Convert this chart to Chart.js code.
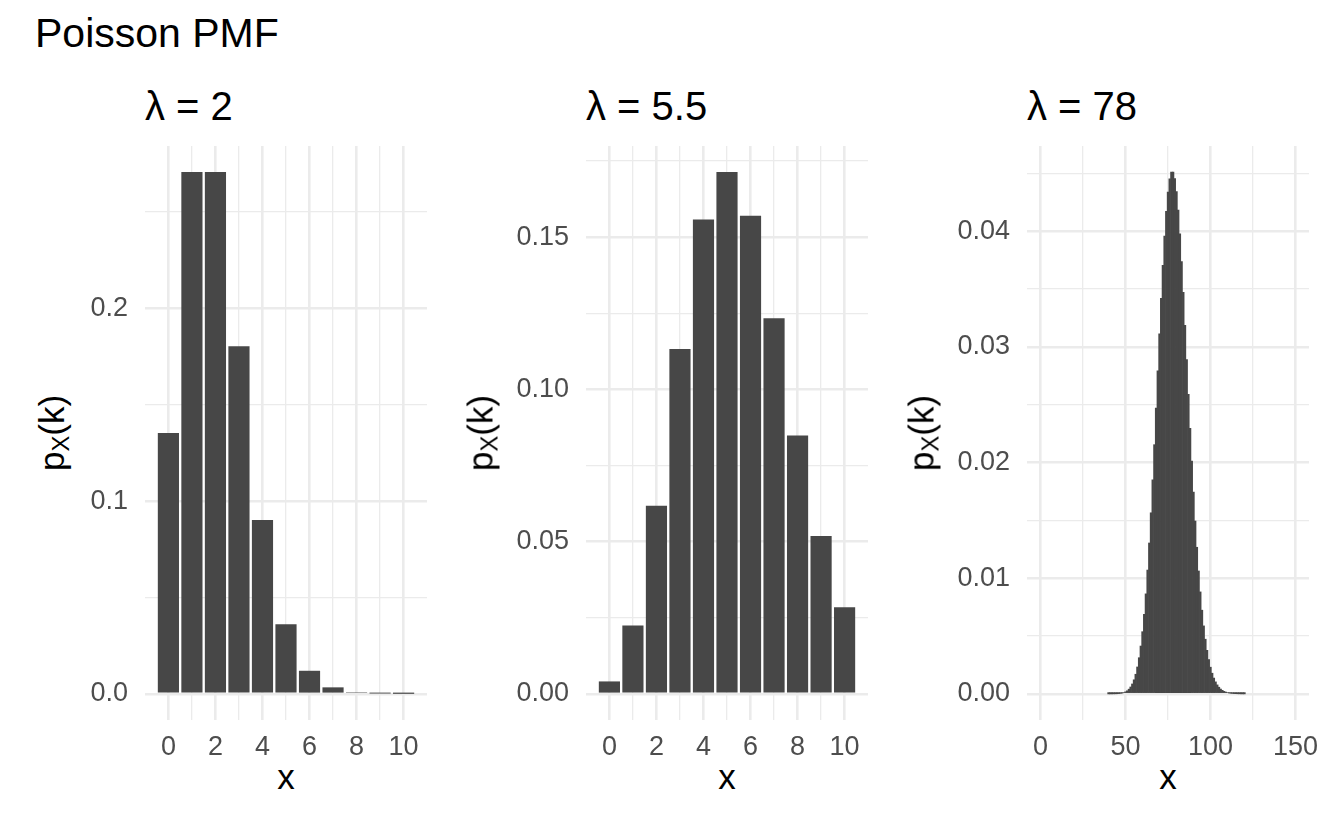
<!DOCTYPE html>
<html>
<head>
<meta charset="utf-8">
<script src="https://cdn.jsdelivr.net/npm/chart.js@4.4.1/dist/chart.umd.min.js"></script>
<style>
  html, body { margin: 0; padding: 0; background: #ffffff; }
  body { width: 1344px; height: 830px; position: relative; overflow: hidden;
         font-family: 'Liberation Sans', Arial, Helvetica, sans-serif; color: #000; }
  .txt { position: absolute; line-height: 1; white-space: nowrap; }
  #mainTitle { left: 35px; top: 13px; font-size: 41px; }
  .ptitle { top: 86px; font-size: 40px; }
  .ytitle { top: 433px; font-size: 35px; transform: translate(-50%, -50%) rotate(-90deg); }
  .ytitle sub { font-size: 0.68em; vertical-align: -0.22em; line-height: 0; }
  .xtitle { top: 759px; font-size: 35px; transform: translateX(-50%); }
  canvas { position: absolute; top: 140px; }
</style>
</head>
<body>
<script>
// ---------------- data ----------------
const mainTitle = 'Poisson PMF';
const panelTitles = ['λ = 2', 'λ = 5.5', 'λ = 78'];

const k2 = [0, 1, 2, 3, 4, 5, 6, 7, 8, 9, 10];
const p2 = [0.1353, 0.2707, 0.2707, 0.1804, 0.0902, 0.0361, 0.0120, 0.0034, 0.0009, 0.0002, 0.00004];

const k55 = [0, 1, 2, 3, 4, 5, 6, 7, 8, 9, 10];
const p55 = [0.0041, 0.0225, 0.0618, 0.1133, 0.1558, 0.1714, 0.1571, 0.1234, 0.0849, 0.0519, 0.0285];

const k78 = [40, 41, 42, 43, 44, 45, 46, 47, 48, 49,
             50, 51, 52, 53, 54, 55, 56, 57, 58, 59,
             60, 61, 62, 63, 64, 65, 66, 67, 68, 69,
             70, 71, 72, 73, 74, 75, 76, 77, 78, 79,
             80, 81, 82, 83, 84, 85, 86, 87, 88, 89,
             90, 91, 92, 93, 94, 95, 96, 97, 98, 99,
             100, 101, 102, 103, 104, 105, 106, 107, 108, 109,
             110, 111, 112, 113, 114, 115, 116, 117, 118, 119, 120];
const p78 = [0.000001, 0.000002, 0.000003, 0.000005, 0.000009, 0.000015, 0.000026, 0.000043, 0.00007, 0.00011,
             0.00018, 0.00027, 0.00041, 0.00060, 0.00086, 0.00122, 0.00170, 0.00233, 0.00313, 0.00414,
             0.00538, 0.00688, 0.00865, 0.01071, 0.01305, 0.01566, 0.01851, 0.02155, 0.02472, 0.02794,
             0.03113, 0.03420, 0.03705, 0.03959, 0.04173, 0.04340, 0.04454, 0.04512, 0.04512, 0.04455,
             0.04344, 0.04183, 0.03979, 0.03739, 0.03472, 0.03186, 0.02890, 0.02591, 0.02297, 0.02013,
             0.01745, 0.01495, 0.01268, 0.01063, 0.00882, 0.00724, 0.00588, 0.00473, 0.00377, 0.00297,
             0.00231, 0.00179, 0.00137, 0.00104, 0.00078, 0.00058, 0.00042, 0.00031, 0.00022, 0.00016,
             0.00011, 0.00008, 0.000055, 0.000038, 0.000026, 0.000018, 0.000012, 0.000008, 0.000005, 0.000003, 0.000002];

// axis ticks (all grid lines) and labelled (major) ticks
const xGrid10 = [0, 1, 2, 3, 4, 5, 6, 7, 8, 9, 10];
const xMajor10 = [0, 2, 4, 6, 8, 10];
const xGrid150 = [0, 25, 50, 75, 100, 125, 150];
const xMajor150 = [0, 50, 100, 150];

const yGrid2 = [0, 0.05, 0.1, 0.15, 0.2, 0.25];
const yMajor2 = [0, 0.1, 0.2];
const yGrid55 = [0, 0.025, 0.05, 0.075, 0.1, 0.125, 0.15, 0.175];
const yMajor55 = [0, 0.05, 0.1, 0.15];
const yGrid78 = [0, 0.005, 0.01, 0.015, 0.02, 0.025, 0.03, 0.035, 0.04, 0.045];
const yMajor78 = [0, 0.01, 0.02, 0.03, 0.04];

// ---------------- styling / layout ----------------
const BAR = '#474747';
const GRID = '#ebebeb';
const TICK = '#4d4d4d';
const GRID_MAJOR_W = 2.6;
const GRID_MINOR_W = 1.3;
const PLOT_W = 282;
const YAXIS_W = 90;
const RIGHT_PAD = 34;
const CANVAS_H = 690;
const XAXIS_H = 110;
const plotLefts = [145, 586, 1027];
const barPcts = [0.9, 0.9, 1.0];

Chart.defaults.font.family = "'Liberation Sans', Arial, Helvetica, sans-serif";

function near(list, v) { return list.some(m => Math.abs(m - v) < 1e-9); }

function addText(cls, html, left) {
  const d = document.createElement('div');
  d.className = 'txt ' + cls;
  d.innerHTML = html;
  d.style.left = left + 'px';
  document.body.appendChild(d);
  return d;
}

addText('', mainTitle, 35).id = 'mainTitle';

const panels = [
  { k: k2,  p: p2,  xGrid: xGrid10,  xMajor: xMajor10,  yGrid: yGrid2,  yMajor: yMajor2,  dec: 1 },
  { k: k55, p: p55, xGrid: xGrid10,  xMajor: xMajor10,  yGrid: yGrid55, yMajor: yMajor55, dec: 2 },
  { k: k78, p: p78, xGrid: xGrid150, xMajor: xMajor150, yGrid: yGrid78, yMajor: yMajor78, dec: 2 }
];
const xDomain = [[0, 10], [0, 10], [0, 150]];
const yTitleCenters = [51, 480, 921];

panels.forEach((pn, i) => {
  const left = plotLefts[i];
  addText('ptitle', panelTitles[i], left);
  addText('ytitle', 'p<sub>X</sub>(k)', yTitleCenters[i]);
  addText('xtitle', 'x', left + PLOT_W / 2);

  const cv = document.createElement('canvas');
  cv.width = YAXIS_W + PLOT_W + RIGHT_PAD;
  cv.height = CANVAS_H;
  cv.style.left = (left - YAXIS_W) + 'px';
  document.body.appendChild(cv);

  // ggplot-style limits: bar width 0.9, 5% expansion
  const lo = xDomain[i][0] - 0.45, hi = xDomain[i][1] + 0.45;
  const ex = (hi - lo) * 0.05;
  const ymax = Math.max(...pn.p);

  new Chart(cv, {
    type: 'bar',
    data: {
      datasets: [{
        data: pn.k.map((k, j) => ({ x: k, y: pn.p[j] })),
        backgroundColor: BAR,
        borderWidth: 0,
        barPercentage: barPcts[i],
        categoryPercentage: 1.0
      }]
    },
    options: {
      responsive: false,
      animation: false,
      devicePixelRatio: 1,
      layout: { padding: { top: 6, right: RIGHT_PAD, left: 0, bottom: 0 } },
      plugins: { legend: { display: false }, tooltip: { enabled: false }, title: { display: false } },
      scales: {
        x: {
          type: 'linear',
          min: lo - ex,
          max: hi + ex,
          offset: false,
          afterBuildTicks: ax => { ax.ticks = pn.xGrid.map(v => ({ value: v })); },
          afterFit: ax => { ax.height = XAXIS_H; ax.paddingLeft = 0; ax.paddingRight = 0; ax.paddingTop = 0; ax.paddingBottom = 0; },
          grid: { color: GRID, offset: false, drawTicks: false,
                  lineWidth: c => near(pn.xMajor, c.tick ? c.tick.value : NaN) ? GRID_MAJOR_W : GRID_MINOR_W },
          border: { display: false },
          ticks: { autoSkip: false, maxRotation: 0, minRotation: 0, padding: 11, color: TICK,
                   font: { size: 27 },
                   callback: v => near(pn.xMajor, v) ? String(v) : '' }
        },
        y: {
          type: 'linear',
          min: -0.05 * ymax,
          max: 1.05 * ymax,
          afterBuildTicks: ax => { ax.ticks = pn.yGrid.map(v => ({ value: v })); },
          afterFit: ax => { ax.width = YAXIS_W; ax.paddingTop = 0; ax.paddingBottom = 0; ax.paddingLeft = 0; ax.paddingRight = 0; },
          grid: { color: GRID, drawTicks: false,
                  lineWidth: c => near(pn.yMajor, c.tick ? c.tick.value : NaN) ? GRID_MAJOR_W : GRID_MINOR_W },
          border: { display: false },
          ticks: { autoSkip: false, padding: 17, color: TICK, font: { size: 27 },
                   callback: v => near(pn.yMajor, v) ? Number(v).toFixed(pn.dec) : '' }
        }
      }
    }
  });
});
</script>
</body>
</html>
